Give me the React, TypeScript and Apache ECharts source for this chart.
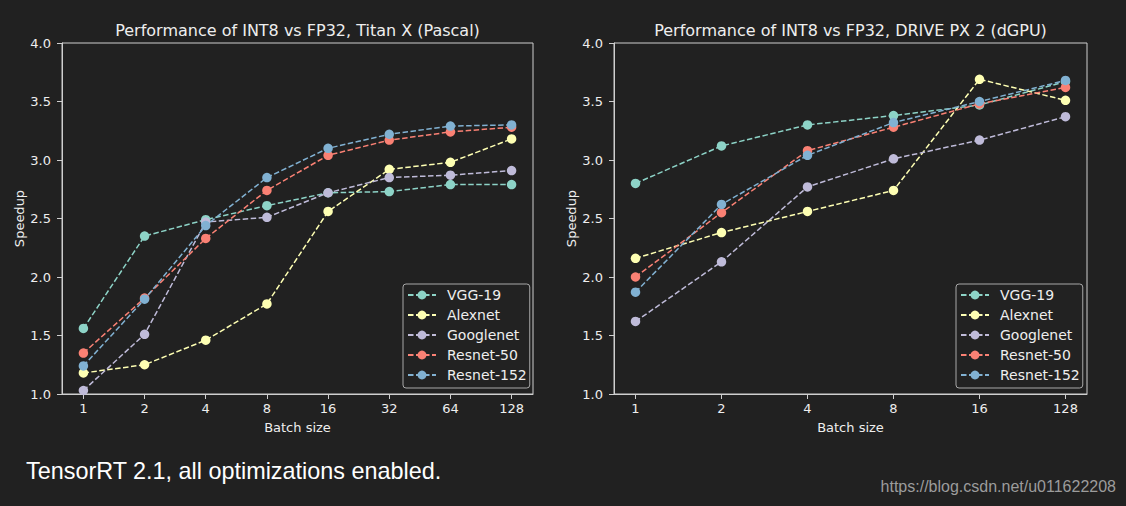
import React, { useEffect, useRef } from "react";
import * as echarts from "echarts";

const seriesNames = ["VGG-19", "Alexnet", "Googlenet", "Resnet-50", "Resnet-152"];
const seriesColors = ["#8dd3c7", "#feffb3", "#bfbbd9", "#fa8174", "#81b1d2"];

const catsLeft = ["1", "2", "4", "8", "16", "32", "64", "128"];
const vgg19Left = [1.56, 2.35, 2.49, 2.61, 2.72, 2.73, 2.79, 2.79];
const alexnetLeft = [1.18, 1.25, 1.46, 1.77, 2.56, 2.92, 2.98, 3.18];
const googlenetLeft = [1.03, 1.51, 2.47, 2.51, 2.72, 2.85, 2.87, 2.91];
const resnet50Left = [1.35, 1.82, 2.33, 2.74, 3.04, 3.17, 3.24, 3.28];
const resnet152Left = [1.24, 1.81, 2.44, 2.85, 3.1, 3.22, 3.29, 3.3];

const catsRight = ["1", "2", "4", "8", "16", "128"];
const vgg19Right = [2.8, 3.12, 3.3, 3.38, 3.47, 3.67];
const alexnetRight = [2.16, 2.38, 2.56, 2.74, 3.69, 3.51];
const googlenetRight = [1.62, 2.13, 2.77, 3.01, 3.17, 3.37];
const resnet50Right = [2.0, 2.55, 3.08, 3.28, 3.48, 3.62];
const resnet152Right = [1.87, 2.62, 3.04, 3.32, 3.5, 3.68];

const titleLeft = "Performance of INT8 vs FP32, Titan X (Pascal)";
const titleRight = "Performance of INT8 vs FP32, DRIVE PX 2 (dGPU)";
const xName = "Batch size";
const yName = "Speedup";
const footnote = "TensorRT 2.1, all optimizations enabled.";
const watermark = "https://blog.csdn.net/u011622208";

const BG = "#212121";
const FRAME = "#cfcfcf";
const TEXT = "#eeeeee";
const FONT = "DejaVu Sans";

export default function App() {
  const ref = useRef<HTMLDivElement>(null);
  useEffect(() => {
    if (!ref.current) return;
    const chart = echarts.init(ref.current, null, { renderer: "svg" });
    const leftData = [vgg19Left, alexnetLeft, googlenetLeft, resnet50Left, resnet152Left];
    const rightData = [vgg19Right, alexnetRight, googlenetRight, resnet50Right, resnet152Right];

    const makeX = (gridIndex: number, cats: string[]) => {
      const idx = cats.map((_, i) => i);
      const pad = (cats.length - 1) * 0.05;
      return {
        type: "value",
        gridIndex,
        min: -pad,
        max: cats.length - 1 + pad,
        splitLine: { show: false },
        axisLine: { show: true, onZero: false, lineStyle: { color: FRAME, width: 1 } },
        axisTick: { show: true, customValues: idx, length: 5, lineStyle: { color: FRAME } },
        axisLabel: {
          customValues: idx,
          formatter: (v: number) => cats[Math.round(v)] ?? "",
          color: TEXT,
          fontFamily: FONT,
          fontSize: 13,
          margin: 8,
        },
        name: xName,
        nameLocation: "middle",
        nameGap: 27,
        nameTextStyle: { color: TEXT, fontFamily: FONT, fontSize: 13 },
      };
    };
    const makeY = (gridIndex: number) => ({
      type: "value",
      gridIndex,
      min: 1,
      max: 4,
      interval: 0.5,
      splitLine: { show: false },
      axisLine: { show: true, onZero: false, lineStyle: { color: FRAME, width: 1 } },
      axisTick: { show: true, length: 5, lineStyle: { color: FRAME } },
      axisLabel: {
        formatter: (v: number) => v.toFixed(1),
        color: TEXT,
        fontFamily: FONT,
        fontSize: 13,
        margin: 11,
      },
      name: yName,
      nameLocation: "middle",
      nameGap: 36,
      nameRotate: 90,
      nameTextStyle: { color: TEXT, fontFamily: FONT, fontSize: 13 },
    });

    const series: any[] = [];
    [leftData, rightData].forEach((group, g) => {
      group.forEach((vals, s) => {
        series.push({
          type: "line",
          name: seriesNames[s],
          xAxisIndex: g,
          yAxisIndex: g,
          data: vals.map((v, i) => [i, v]),
          symbol: "circle",
          symbolSize: 9.5,
          showSymbol: true,
          itemStyle: { color: seriesColors[s], borderWidth: 0 },
          lineStyle: { color: seriesColors[s], width: 1.5, type: [5.5, 2.5] },
          emphasis: { disabled: true },
        });
      });
    });

    const legendCommon = {
      data: seriesNames,
      orient: "vertical",
      top: 284,
      itemWidth: 28,
      itemHeight: 11,
      itemGap: 6,
      padding: [4, 3, 6, 4],
      backgroundColor: "#222222",
      borderColor: "#a8a8a8",
      borderWidth: 1,
      borderRadius: 3,
      textStyle: {
        color: TEXT,
        fontFamily: FONT,
        fontSize: 14,
        lineHeight: 14,
        padding: [0, 0, 0, 6],
      },
    };

    chart.setOption({
      animation: false,
      backgroundColor: BG,
      grid: [
        { left: 62, top: 43, width: 471, height: 351, show: true, borderColor: FRAME, borderWidth: 1 },
        { left: 614, top: 43, width: 473, height: 351, show: true, borderColor: FRAME, borderWidth: 1 },
      ],
      xAxis: [makeX(0, catsLeft), makeX(1, catsRight)],
      yAxis: [makeY(0), makeY(1)],
      legend: [
        { ...legendCommon, left: 403 },
        { ...legendCommon, left: 956 },
      ],
      series,
      graphic: [
        {
          type: "text",
          x: 297.5,
          y: 30,
          style: { text: titleLeft, fill: TEXT, font: `16px "${FONT}"`, align: "center", verticalAlign: "middle" },
        },
        {
          type: "text",
          x: 850.5,
          y: 30,
          style: { text: titleRight, fill: TEXT, font: `16px "${FONT}"`, align: "center", verticalAlign: "middle" },
        },
        {
          type: "text",
          x: 26,
          y: 471,
          style: { text: footnote, fill: "#ffffff", font: `23.4px "Liberation Sans"`, align: "left", verticalAlign: "middle" },
        },
        {
          type: "text",
          x: 1116,
          y: 486.5,
          style: { text: watermark, fill: "#9c9c9c", font: `16px "Liberation Sans"`, align: "right", verticalAlign: "middle" },
        },
      ],
    });
    return () => chart.dispose();
  }, []);
  return (
    <div
      ref={ref}
      style={{ position: "absolute", left: 0, top: 0, width: 1126, height: 506 }}
    />
  );
}
